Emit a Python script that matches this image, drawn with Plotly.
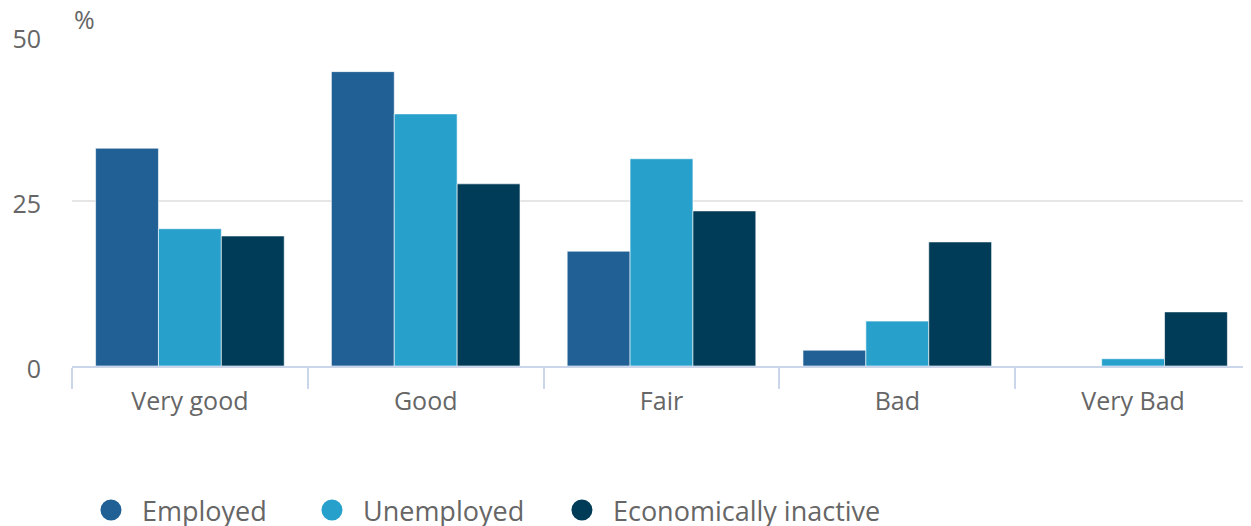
import plotly.graph_objects as go

categories = ["Very good", "Good", "Fair", "Bad", "Very Bad"]
employed = [33.0, 44.6, 17.4, 2.4, 0.0]
unemployed = [20.8, 38.2, 31.4, 6.8, 1.1]
inactive = [19.7, 27.6, 23.5, 18.8, 8.2]
series_names = ["Employed", "Unemployed", "Economically inactive"]
series_values = [employed, unemployed, inactive]
colors = ["#206095", "#27a0cc", "#003c57"]
y_ticks = [0, 25, 50]

FONT = "Open Sans"
GREY = "#666666"
legend_ids = ["legend", "legend2", "legend3"]
legend_x = [0.0579, 0.2357, 0.4368]

fig = go.Figure()
for name, vals, col in zip(series_names, series_values, colors):
    fig.add_trace(go.Bar(
        x=categories, y=vals, name=name, showlegend=False,
        marker=dict(color=col, line=dict(color="rgba(255,255,255,0.6)", width=1)),
        hoverinfo="skip",
    ))
# legend-only circle markers, one legend per entry
for name, col, lid in zip(series_names, colors, legend_ids):
    fig.add_trace(go.Scatter(
        x=[None], y=[None], mode="markers", name=name, legend=lid,
        marker=dict(symbol="circle", size=16, color=col,
                    line=dict(color=col, width=5)),
    ))

legend_common = dict(
    orientation="h", xref="container", yref="container",
    xanchor="left", y=0.03, yanchor="middle",
    font=dict(family=FONT, size=27, color=GREY),
    itemsizing="trace", itemwidth=52, bgcolor="rgba(0,0,0,0)",
)
layout_legends = {lid: dict(legend_common, x=lx) for lid, lx in zip(legend_ids, legend_x)}

fig.update_layout(
    width=1243, height=518,
    margin=dict(l=64, r=0, t=28, b=160, autoexpand=False),
    paper_bgcolor="white", plot_bgcolor="white",
    barmode="group", bargap=0.2, bargroupgap=0,
    font=dict(family=FONT, color=GREY, size=25),
    annotations=[dict(
        text="%", xref="paper", yref="paper", x=0, y=1, xanchor="left",
        yanchor="bottom", xshift=0, yshift=-2, showarrow=False,
        font=dict(family=FONT, size=25, color=GREY),
    )],
    **layout_legends,
)
fig.update_xaxes(
    type="category", tickson="boundaries", ticks="outside", ticklen=21,
    tickwidth=2, tickcolor="#ccd6eb", showline=True, linecolor="#ccd6eb",
    linewidth=2, showgrid=False, tickfont=dict(family=FONT, size=25, color=GREY),
    ticklabelstandoff=12, fixedrange=True,
)
fig.update_yaxes(
    range=[0, 50], tickvals=y_ticks, showgrid=True, gridcolor="#e6e6e6",
    gridwidth=1.5, zeroline=False, showline=False, ticks="",
    ticklabelstandoff=30, ticklabelshift=3,
    tickfont=dict(family=FONT, size=25, color=GREY),
    fixedrange=True,
)

fig.write_html("out.html")
